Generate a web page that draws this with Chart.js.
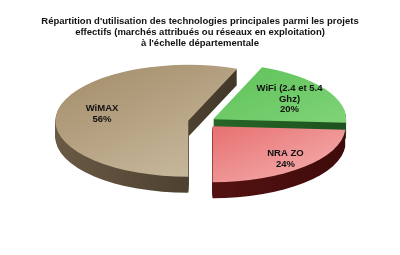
<!DOCTYPE html>
<html>
<head>
<meta charset="utf-8">
<script src="https://cdn.jsdelivr.net/npm/chart.js@4.4.0/dist/chart.umd.min.js"></script>
<style>
  html, body { margin: 0; padding: 0; background: #fff; }
</style>
</head>
<body>
<canvas id="chart" width="400" height="255"></canvas>
<script>
'use strict'

const titleLines = [
    "Répartition d'utilisation des technologies principales parmi les projets",
    'effectifs (marchés attribués ou réseaux en exploitation)',
    "à l'échelle départementale"
];
const categories = ['WiMAX', 'WiFi (2.4 et 5.4 Ghz)', 'NRA ZO'];
const shares = [56, 20, 24];

// look of the tilted pie
const FONT = '"Liberation Sans", Arial, sans-serif';
const pieCenter = { x: 203, y: 122 };
const radiusX = 133, radiusY = 56, depth = 16;
const explode = [15, 12, 14];
const labelRadius = [0.66, 0.68, 0.8];
const topColors = [['#a28b68', '#d3c6ac'], ['#4cb847', '#8fdc87'], ['#d82c2c', '#f6b4b4']];
const sideColors = [['#6a5a44', '#2f271c'], ['#2f7a2e', '#1d521e'], ['#6e1818', '#3e0b0b']];

function wrapText(ctx, text, maxWidth) {
    const words = text.split(' ');
    const lines = [];
    let line = '';
    words.forEach(w => {
        const test = line ? line + ' ' + w : w;
        if (line && ctx.measureText(test).width > maxWidth) {
            lines.push(line);
            line = w;
        } else {
            line = test;
        }
    });
    lines.push(line);
    return lines;
}

const pie3d = {
    id: 'pie3d',
    beforeDatasetsDraw(chart) {
        const ctx = chart.ctx;
        const arcs = chart.getDatasetMeta(0).data;
        const R = arcs[0].outerRadius;
        const sx = radiusX / R, sy = radiusY / R;

        const shifts = arcs.map((a, i) => {
            const mid = (a.startAngle + a.endAngle) / 2;
            return { x: Math.cos(mid) * explode[i], y: Math.sin(mid) * explode[i] * radiusY / radiusX };
        });

        const slice = (a, i, dy, colors, diag) => {
            ctx.save();
            ctx.translate(pieCenter.x + shifts[i].x, pieCenter.y + shifts[i].y + dy);
            ctx.scale(sx, sy);
            const g = diag ? ctx.createLinearGradient(-R, -R, R, R) : ctx.createLinearGradient(-R, 0, R, 0);
            g.addColorStop(0, colors[0]);
            g.addColorStop(1, colors[1]);
            ctx.beginPath();
            ctx.moveTo(0, 0);
            ctx.arc(0, 0, R, a.startAngle, a.endAngle);
            ctx.closePath();
            ctx.fillStyle = g;
            ctx.fill();
            ctx.restore();
        };

        // sides first, then the tops
        for (let d = depth; d >= 1; d--) {
            arcs.forEach((a, i) => slice(a, i, d, sideColors[i], false));
        }
        arcs.forEach((a, i) => slice(a, i, 0, topColors[i], true));

        // labels
        const total = shares.reduce((s, v) => s + v, 0);
        ctx.save();
        ctx.font = 'bold 9.5px ' + FONT;
        ctx.fillStyle = '#111';
        ctx.textAlign = 'center';
        ctx.textBaseline = 'middle';
        arcs.forEach((a, i) => {
            const mid = (a.startAngle + a.endAngle) / 2;
            const px = pieCenter.x + shifts[i].x + Math.cos(mid) * labelRadius[i] * radiusX;
            const py = pieCenter.y + shifts[i].y + Math.sin(mid) * labelRadius[i] * radiusY;
            const lines = wrapText(ctx, categories[i], 80);
            lines.push(Math.round(shares[i] / total * 100) + '%');
            const lh = 10.8;
            const y0 = py - (lines.length - 1) * lh / 2;
            lines.forEach((t, k) => ctx.fillText(t, px, y0 + k * lh));
        });
        ctx.restore();
        return false;
    }
};

const chart = new Chart(document.getElementById('chart'), {
    type: 'pie',
    data: {
        labels: categories,
        datasets: [{
            data: shares,
            borderWidth: 0,
            clip: false
        }]
    },
    options: {
        responsive: false,
        animation: false,
        rotation: 180,
        plugins: {
            legend: { display: false },
            tooltip: { enabled: false },
            title: {
                display: true,
                text: titleLines,
                color: '#111',
                font: { family: FONT, size: 9.5, weight: 'bold', lineHeight: 1.15 },
                padding: { top: 16, bottom: 10 }
            }
        }
    },
    plugins: [pie3d]
});
</script>
</body>
</html>
